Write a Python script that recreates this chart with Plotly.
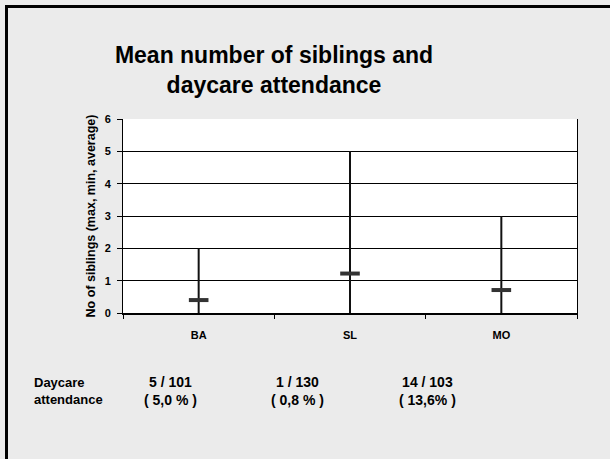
import plotly.graph_objects as go

groups = ["BA", "SL", "MO"]
sib_min = [0, 0, 0]
sib_max = [2, 5, 3]
sib_mean = [0.4, 1.22, 0.71]

daycare_n = ["5 / 101", "1 / 130", "14 / 103"]
daycare_pct = ["( 5,0 % )", "( 0,8 % )", "( 13,6% )"]

W, H = 610, 459
L, R, T, B = 123, 33, 119, 146
pw, ph = W - L - R, H - T - B


def px(x):
    return (x - L) / pw


def py(y):
    return (H - B - y) / ph


fig = go.Figure()

# min-max range drawn as error bars around the mean dash
fig.add_trace(go.Scatter(
    x=groups,
    y=sib_mean,
    mode="markers",
    marker=dict(symbol="line-ew", size=14, line=dict(width=4, color="#333333")),
    error_y=dict(
        type="data",
        symmetric=False,
        array=[mx - m for mx, m in zip(sib_max, sib_mean)],
        arrayminus=[m - mn for m, mn in zip(sib_mean, sib_min)],
        width=0,
        thickness=2,
        color="#111111",
    ),
    showlegend=False,
    hoverinfo="skip",
))

fnt = "Liberation Sans, Arial, sans-serif"

annotations = [
    dict(text="Daycare<br>attendance", x=px(32), y=py(391), xref="paper", yref="paper",
         xanchor="left", yanchor="middle", align="left", showarrow=False,
         font=dict(family=fnt, size=13, color="black", weight="bold")),
]
for cx, n, p in zip([170, 297, 427], daycare_n, daycare_pct):
    annotations.append(dict(
        text=f"{n}<br>{p}", x=px(cx), y=py(391), xref="paper", yref="paper",
        xanchor="center", yanchor="middle", align="center", showarrow=False,
        font=dict(family=fnt, size=14, color="black", weight="bold"),
    ))

fig.update_layout(
    width=W,
    height=H,
    margin=dict(l=L, r=R, t=T, b=B),
    paper_bgcolor="#ebebeb",
    plot_bgcolor="white",
    title=dict(
        text="Mean number of siblings and<br>daycare attendance",
        x=274 / W, xanchor="center", xref="container",
        y=1 - 63 / H, yanchor="middle", yref="container",
        font=dict(family=fnt, size=23, color="black", weight="bold"),
    ),
    xaxis=dict(
        range=[-0.5, 2.5],
        showgrid=False,
        tickson="boundaries",
        ticks="outside",
        ticklen=4,
        tickcolor="black",
        showline=True,
        linecolor="black",
        linewidth=2,
        tickfont=dict(family=fnt, size=11, color="black", weight="bold"),
        ticklabelstandoff=11,
    ),
    yaxis=dict(
        range=[0, 6],
        dtick=1,
        showgrid=True,
        gridcolor="black",
        gridwidth=1,
        zeroline=False,
        showline=True,
        linecolor="black",
        linewidth=1,
        mirror=True,
        ticks="outside",
        ticklen=5,
        tickcolor="black",
        tickfont=dict(family=fnt, size=11, color="black", weight="bold"),
        ticklabelstandoff=4,
        title=dict(text="No of siblings (max, min, average)",
                   font=dict(family=fnt, size=12.5, color="black", weight="bold"), standoff=6),
    ),
    annotations=annotations,
    shapes=[dict(
        type="path", xref="paper", yref="paper",
        path=f"M {px(6.5)} {py(470)} L {px(6.5)} {py(6.5)} L {px(620)} {py(6.5)}",
        line=dict(color="black", width=3),
    )],
)

fig.write_html("out.html", config={"displayModeBar": False},
               post_script="document.body.style.margin='0';")
